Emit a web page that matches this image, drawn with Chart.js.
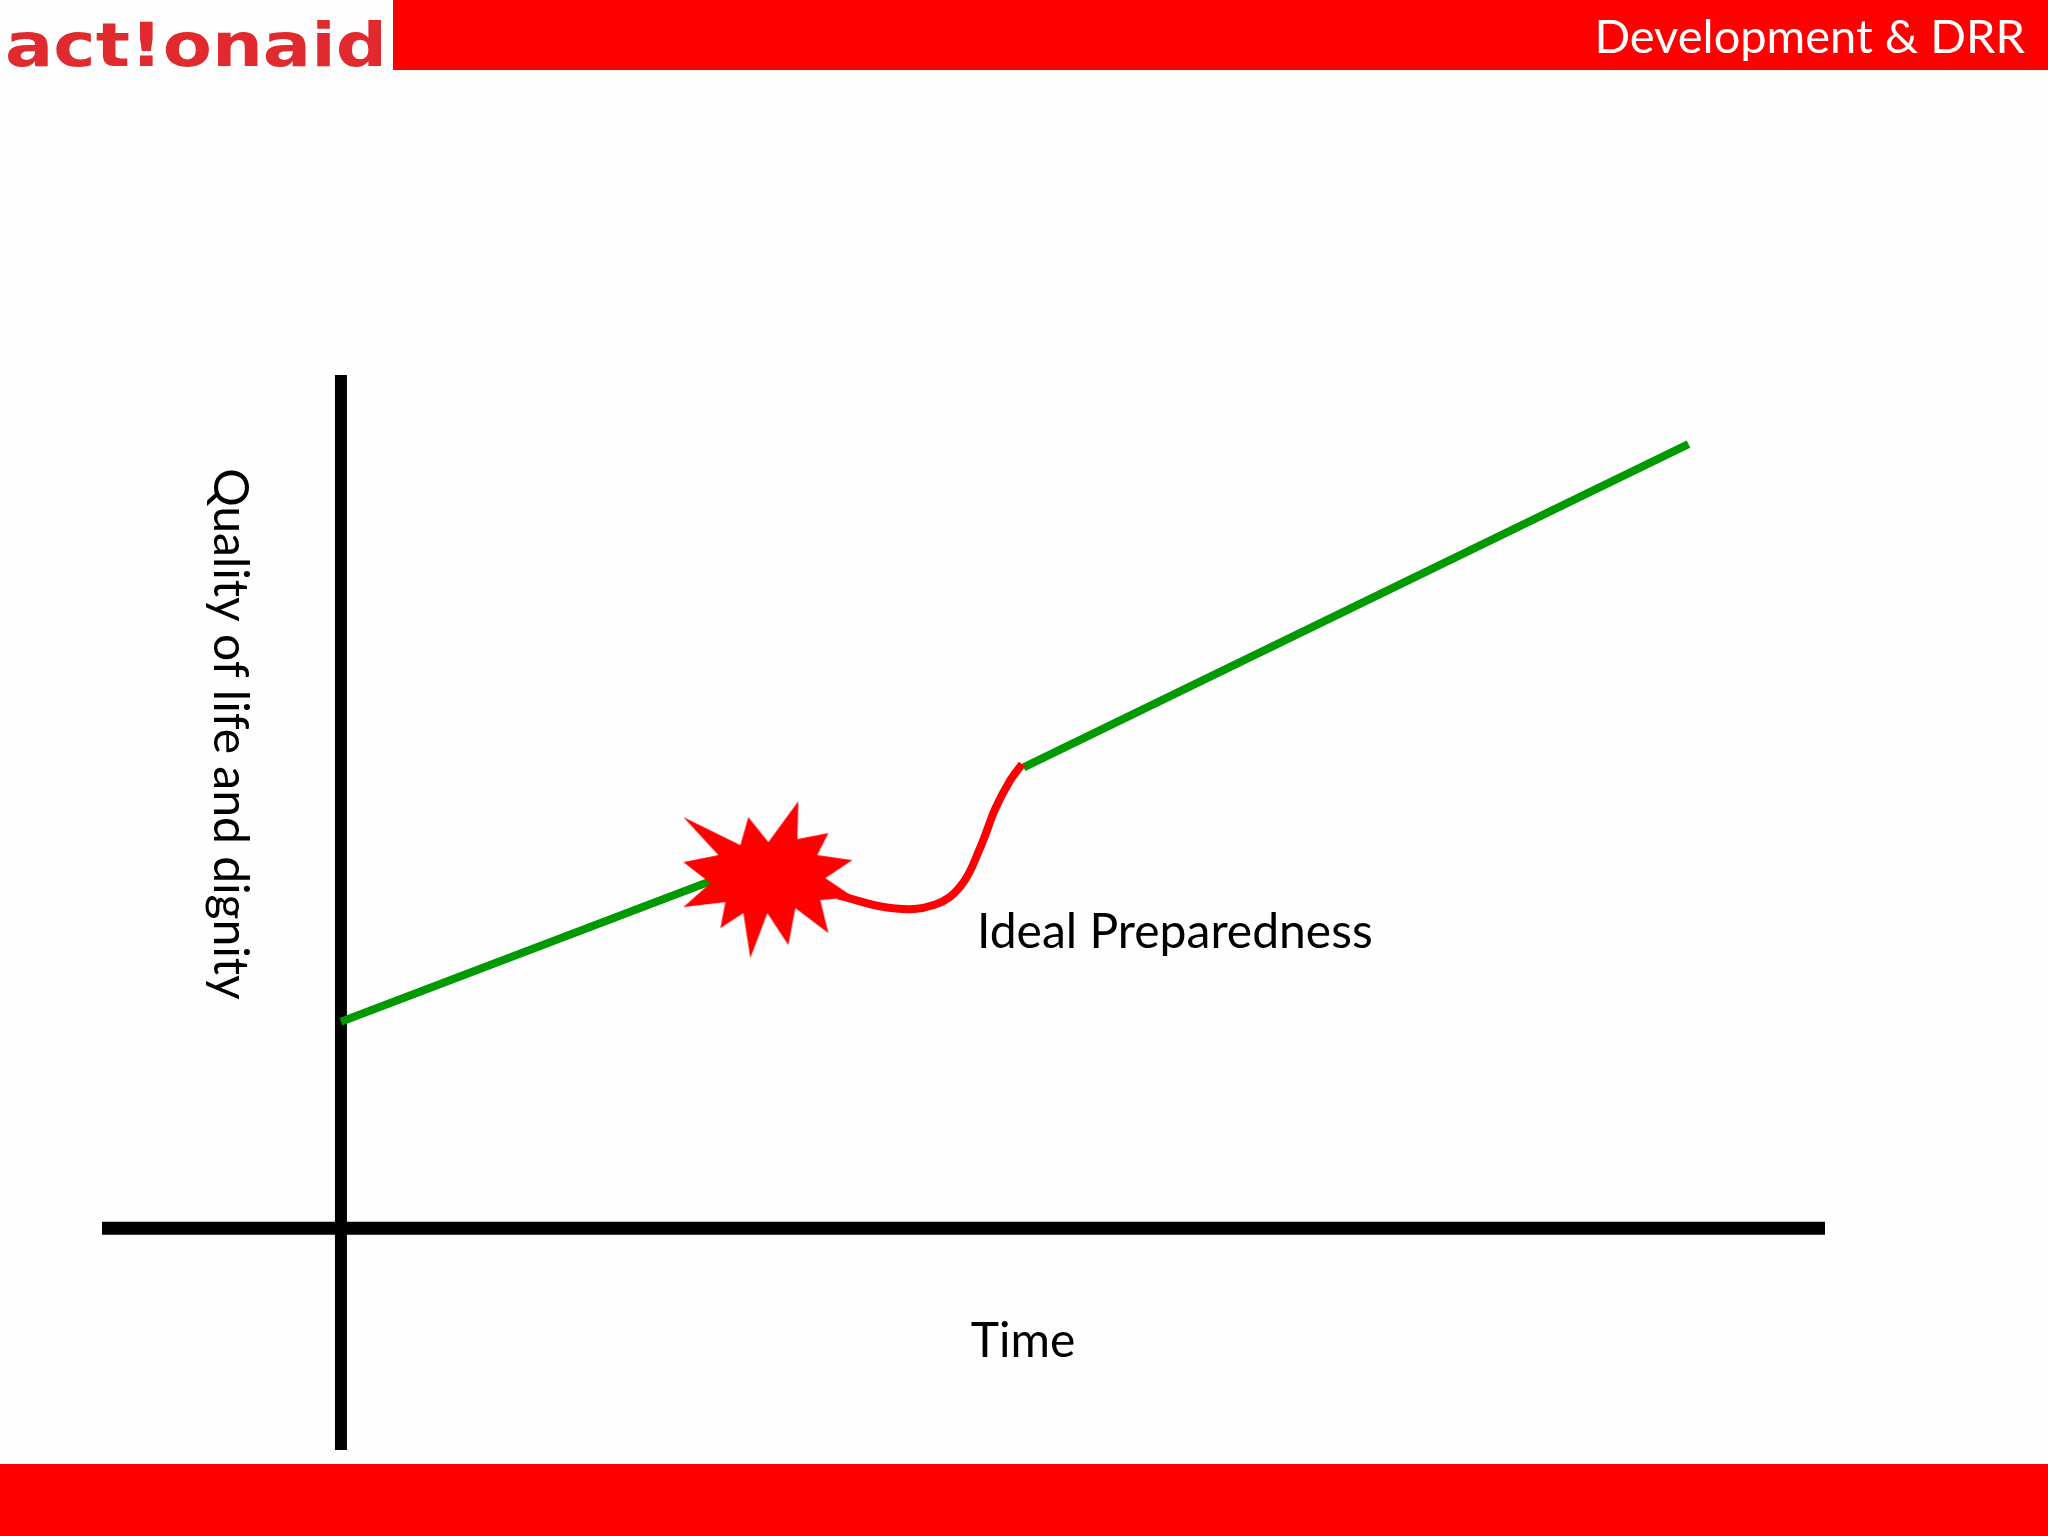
<!DOCTYPE html>
<html>
<head>
<meta charset="utf-8">
<title>Development &amp; DRR</title>
<script src="https://cdn.jsdelivr.net/npm/chart.js@4.4.1/dist/chart.umd.min.js"></script>
<style>
  html, body { margin: 0; padding: 0; background: #fefefe; }
  #page { position: relative; width: 2048px; height: 1536px; overflow: hidden; }
  .topbar { position: absolute; left: 393px; top: 0; width: 1655px; height: 70px; background: #ff0000; }
  .footbar { position: absolute; left: 0; top: 1464px; width: 2048px; height: 72px; background: #ff0000; }
  #wrap { position: absolute; left: 0; top: 0; width: 2048px; height: 1536px; }
</style>
</head>
<body>
<div id="page">
  <div class="topbar"></div>
  <div class="footbar"></div>
  <div id="wrap"><canvas id="drrChart"></canvas></div>
</div>
<script>
// axis extents (time / quality units, origin where the axes cross)
const timeRange = [-16.1, 100];
const qualityRange = [-26, 100];

// development before the disaster
const timeBefore = [0, 26];
const qualityBefore = [24.2, 41.4];

// the disaster
const disasterTime = [28.8];
const disasterQuality = [40.8];

// recovery curve
const recoveryTime = [33.5, 37.2, 40.0, 41.8, 43.1, 44.1, 45.1, 45.9];
const recoveryQuality = [39.0, 37.5, 37.9, 40.2, 44.7, 49.2, 52.5, 54.4];

// development after recovery
const timeAfter = [46.0, 90.8];
const qualityAfter = [54.0, 91.9];

const labels = {
  header: 'Development & DRR',
  logo: 'act!onaid',
  x: 'Time',
  y: 'Quality of life and dignity',
  note: 'Ideal Preparedness'
};

const green = '#009900';
const red = '#ff0000';
const textFont = 'Lato, "Open Sans", sans-serif';

const pts = (xs, ys) => xs.map((x, i) => ({ x: x, y: ys[i] }));

// explosion shape used as the point style for the disaster
function makeBurst() {
  const c = document.createElement('canvas');
  c.width = 180; c.height = 170;
  const g = c.getContext('2d');
  const outline = [
    [-85, -63], [-28, -35], [-20, -63], [0, -38], [30, -79], [29, -41],
    [60, -47], [49, -25], [84, -20], [57, -2], [85, 17], [52, 20],
    [60, 53], [27, 28], [20, 65], [-1, 33], [-18, 78], [-25, 33],
    [-48, 48], [-43, 22], [-85, 27], [-58, 3], [-85, -18], [-50, -25]
  ];
  g.translate(90, 85);
  g.beginPath();
  outline.forEach((p, i) => i ? g.lineTo(p[0], p[1]) : g.moveTo(p[0], p[1]));
  g.closePath();
  g.fillStyle = red;
  g.fill();
  return c;
}

const textPlugin = {
  id: 'slideText',
  afterDraw(chart) {
    const ctx = chart.ctx;
    ctx.save();
    ctx.textBaseline = 'alphabetic';

    // header
    ctx.fillStyle = '#ffffff';
    ctx.font = '47px ' + textFont;
    ctx.textAlign = 'right';
    ctx.fillText(labels.header, 2025, 53);

    // logo
    ctx.save();
    ctx.font = 'bold 60px "DejaVu Sans", sans-serif';
    ctx.textAlign = 'left';
    const w = ctx.measureText(labels.logo).width;
    ctx.translate(5, 66);
    ctx.scale(382 / w, 1);
    ctx.fillStyle = '#e02a2d';
    ctx.fillText(labels.logo, 0, 0);
    ctx.restore();

    ctx.fillStyle = '#000000';
    ctx.font = '48px ' + textFont;

    // time axis title
    ctx.textAlign = 'center';
    ctx.fillText(labels.x, 1023, 1357);

    // annotation
    ctx.textAlign = 'left';
    ctx.fillText(labels.note, 977, 948);

    // quality axis title, rotated clockwise
    ctx.save();
    ctx.translate(214, 734);
    ctx.rotate(Math.PI / 2);
    ctx.textAlign = 'center';
    ctx.fillText(labels.y, 0, 0);
    ctx.restore();

    ctx.restore();
  }
};

new Chart(document.getElementById('drrChart'), {
  type: 'line',
  data: {
    datasets: [
      {
        label: 'Disaster',
        data: pts(disasterTime, disasterQuality),
        showLine: false,
        pointStyle: makeBurst(),
        pointRadius: 85,
        order: 0
      },
      {
        label: 'Before',
        data: pts(timeBefore, qualityBefore),
        borderColor: green,
        borderWidth: 8,
        pointRadius: 0,
        order: 1
      },
      {
        label: 'Recovery',
        data: pts(recoveryTime, recoveryQuality),
        borderColor: red,
        borderWidth: 8,
        tension: 0.4,
        pointRadius: 0,
        order: 1
      },
      {
        label: 'After',
        data: pts(timeAfter, qualityAfter),
        borderColor: green,
        borderWidth: 8,
        pointRadius: 0,
        order: 1
      },
      {
        label: 'Quality axis',
        data: [{ x: 0, y: qualityRange[0] }, { x: 0, y: qualityRange[1] }],
        borderColor: '#000000',
        borderWidth: 12,
        pointRadius: 0,
        order: 2
      },
      {
        label: 'Time axis',
        data: [{ x: timeRange[0], y: 0 }, { x: timeRange[1], y: 0 }],
        borderColor: '#000000',
        borderWidth: 13,
        pointRadius: 0,
        order: 2
      }
    ]
  },
  options: {
    responsive: true,
    maintainAspectRatio: false,
    animation: false,
    clip: false,
    layout: { padding: { left: 102, right: 223, top: 375, bottom: 86 } },
    plugins: {
      legend: { display: false },
      tooltip: { enabled: false }
    },
    scales: {
      x: { type: 'linear', min: timeRange[0], max: timeRange[1], display: false },
      y: { type: 'linear', min: qualityRange[0], max: qualityRange[1], display: false }
    }
  },
  plugins: [textPlugin]
});
</script>
</body>
</html>
